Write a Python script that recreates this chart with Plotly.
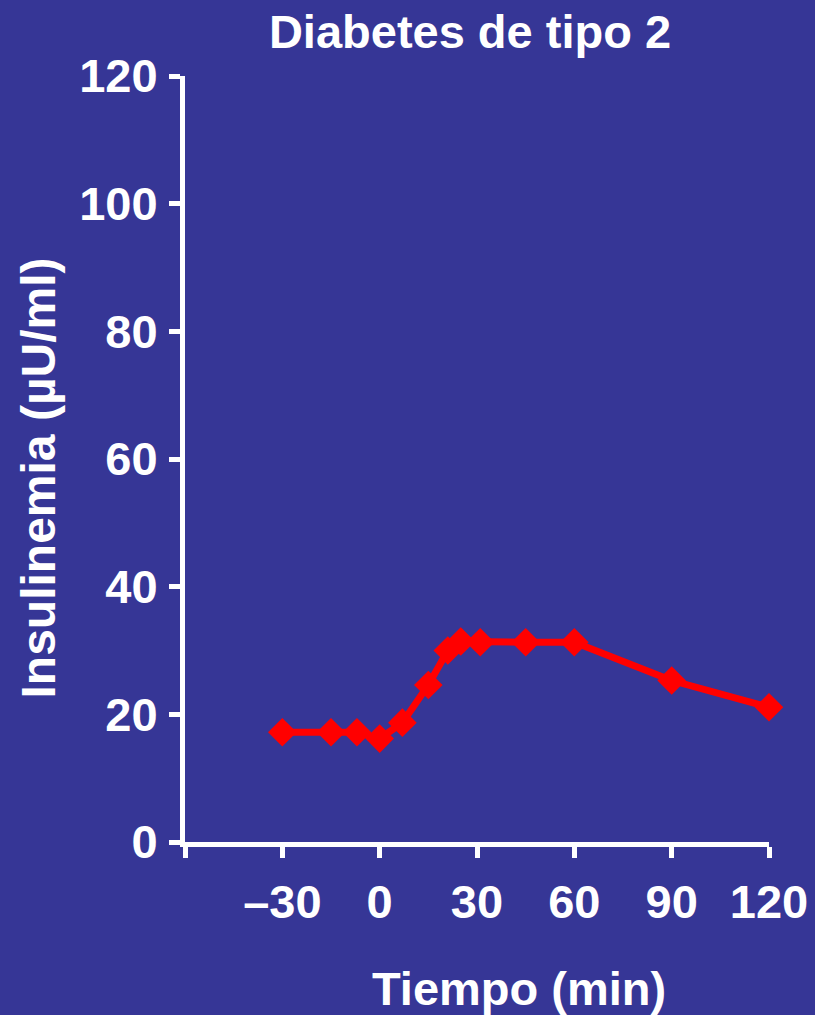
import plotly.graph_objects as go

# Insulin response over time, type 2 diabetes
tiempo_min = [-30, -15, -7, 0, 7, 15, 21, 25, 31, 45, 60, 90, 120]
insulinemia = [17.2, 17.2, 17.2, 16.2, 18.7, 24.6, 30.0, 31.4, 31.3, 31.3, 31.3, 25.3, 21.1]

x_ticks = [-60, -30, 0, 30, 60, 90, 120]
x_tick_text = ["", "\u201330", "0", "30", "60", "90", "120"]
y_ticks = [0, 20, 40, 60, 80, 100, 120]

BG = "#363696"
FONT = "Liberation Sans, Arial, sans-serif"
FS = 47

fig = go.Figure()
fig.add_trace(go.Scatter(
    x=tiempo_min, y=insulinemia,
    mode="lines+markers",
    line=dict(color="#ff0000", width=7),
    marker=dict(symbol="diamond", size=22, color="#ff0000"),
    cliponaxis=False,
    showlegend=False,
))

axis_common = dict(
    showline=True, linecolor="white", linewidth=5,
    ticks="outside", tickcolor="white", tickwidth=5, ticklen=11,
    showgrid=False, zeroline=False,
    tickfont=dict(family=FONT, size=FS, color="white", weight="bold"),
)

fig.update_xaxes(
    range=[-60, 120], tickmode="array", tickvals=x_ticks, ticktext=x_tick_text,
    ticklabelstandoff=4, **axis_common,
)
fig.update_yaxes(
    range=[0, 120], tickmode="array", tickvals=y_ticks,
    ticklabelstandoff=2, **axis_common,
)

fig.update_layout(
    width=815, height=1015,
    margin=dict(l=185, r=46, t=76, b=173, autoexpand=False),
    paper_bgcolor=BG, plot_bgcolor=BG,
    font=dict(family=FONT, color="white"),
    title=dict(
        text="<b>Diabetes de tipo 2</b>",
        font=dict(family=FONT, size=FS, color="white"),
        x=470 / 815, xref="container", xanchor="center",
        y=1 - 32 / 1015, yref="container", yanchor="middle",
    ),
    annotations=[
        dict(text="<b>Tiempo (min)</b>", xref="paper", yref="paper",
             x=(518.5 - 185) / 584, y=-(988 - 842) / 766,
             xanchor="center", yanchor="middle", showarrow=False,
             font=dict(family=FONT, size=FS, color="white")),
        dict(text="<b>Insulinemia (\u00b5U/ml)</b>", xref="paper", yref="paper",
             x=-(185 - 38) / 584, y=(842 - 478.5) / 766, textangle=-90,
             xanchor="center", yanchor="middle", showarrow=False,
             font=dict(family=FONT, size=48, color="white")),
    ],
)

fig.write_html("out.html")
